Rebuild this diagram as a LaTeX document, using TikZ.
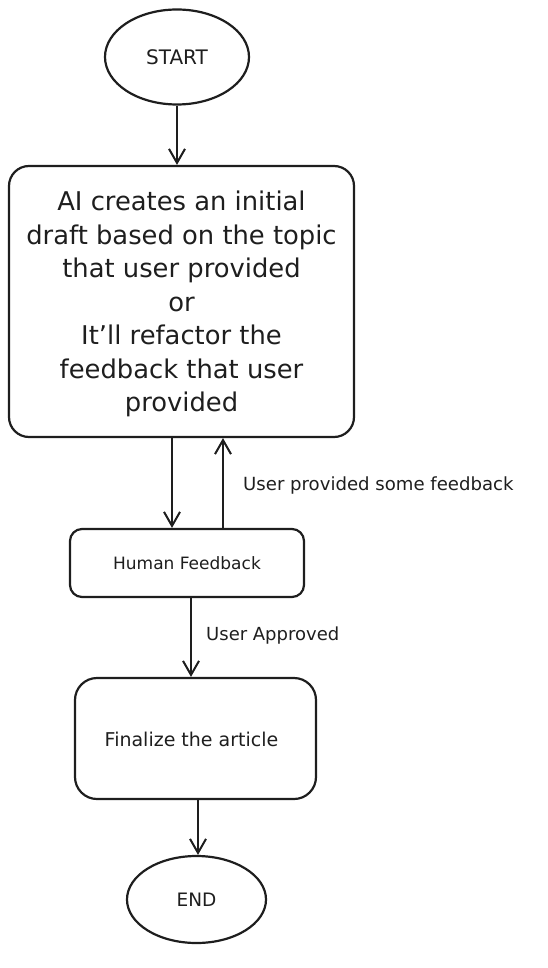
\documentclass[tikz,border=0pt]{standalone}
\usepackage{fontspec}
\setmainfont{DejaVu Sans}
\usetikzlibrary{arrows.meta,shapes.geometric}
\definecolor{ink}{HTML}{1E1E1E}
\tikzset{
  every node/.style={text=ink},
  oval/.style={ellipse,draw=ink,line width=2.2pt,inner sep=0pt},
  boxr/.style={rectangle,draw=ink,line width=2.2pt,inner sep=0pt},
  arr/.style={draw=ink,line width=2.4pt,-{Straight Barb[length=14pt,width=16pt,line width=2pt]}},
  lbl/.style={anchor=west,inner sep=0pt}
}
\begin{document}
\begin{tikzpicture}[x=1pt,y=-1pt]
\useasboundingbox (0,0) rectangle (548,968);
\node[oval,minimum width=144pt,minimum height=95pt,font=\fontsize{20}{22}\selectfont] (start) at (177,57) {START};
\node[boxr,rounded corners=20pt,minimum width=345pt,minimum height=271pt] (main) at (181.5,301.5) {};
\node[align=center,font=\fontsize{25.8}{33.5}\selectfont,inner sep=0pt] (maintext) at (181.5,304) {AI creates an initial\\draft based on the topic\\that user provided\\or\\It'll refactor the\\feedback that user\\provided};
\node[boxr,rounded corners=12pt,minimum width=234pt,minimum height=68pt,font=\fontsize{17}{19}\selectfont] (hf) at (187,563) {Human Feedback};
\node[boxr,rounded corners=22pt,minimum width=241pt,minimum height=121pt] (fin) at (195.5,738.5) {};
\node[font=\fontsize{19}{22}\selectfont,inner sep=0pt] (fintext) at (191.5,739) {Finalize the article};
\node[oval,minimum width=139pt,minimum height=87pt,font=\fontsize{18.5}{20}\selectfont] (end) at (196.5,899.5) {END};
\coordinate (xa) at (172,0);
\coordinate (xb) at (223,0);
\coordinate (xc) at (191,0);
\coordinate (xd) at (198,0);
\draw[arr] (start.south) -- (start.south |- main.north);
\draw[arr] (main.south -| xa) -- (hf.north -| xa);
\draw[arr] (hf.north -| xb) -- (main.south -| xb);
\draw[arr] (hf.south -| xc) -- (fin.north -| xc);
\draw[arr] (fin.south -| xd) -- (end.north -| xd);
\node[lbl,font=\fontsize{18.1}{21}\selectfont] (fb) at (243,486) {User provided some feedback};
\node[lbl,font=\fontsize{18}{21}\selectfont] (ap) at (206,636) {User Approved};
\end{tikzpicture}
\end{document}
